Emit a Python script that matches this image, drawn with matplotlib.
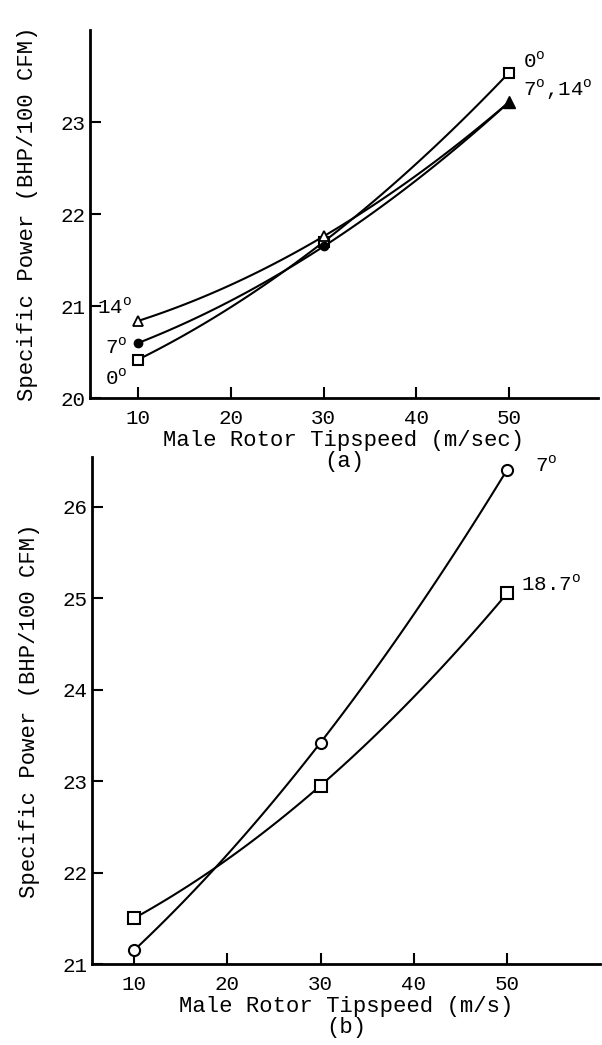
import numpy as np
import matplotlib.pyplot as plt

plt.rcParams['font.family'] = ['Liberation Mono', 'DejaVu Sans Mono']

# panel (a)
speed_a = [10, 30, 50]
power_0 = [20.42, 21.70, 23.54]
power_7 = [20.60, 21.65, 23.22]
power_14 = [20.84, 21.76, 23.22]

# panel (b)
speed_b = [10, 30, 50]
power_b7 = [21.15, 23.42, 26.40]
power_b187 = [21.50, 22.95, 25.05]

DEG = '$^\\mathregular{o}$'


def smooth(ax, x, y):
    c = np.polyfit(x, y, 2)
    xs = np.linspace(x[0], x[-1], 100)
    ax.plot(xs, np.polyval(c, xs), color='black', lw=1.5, zorder=2)


def style(ax):
    for s in ['top', 'right']:
        ax.spines[s].set_visible(False)
    for s in ['left', 'bottom']:
        ax.spines[s].set_linewidth(2)
    ax.tick_params(direction='in', length=8, width=1.5, labelsize=15)
    ax.tick_params(axis='x', pad=8)
    ax.set_ylabel('Specific Power (BHP/100 CFM)', fontsize=16, labelpad=16)


fig = plt.figure(figsize=(6.02, 10.45), dpi=100)

ax1 = fig.add_axes([0.1495, 0.619, 0.844, 0.352])
ax1.set_zorder(2)
ax1.patch.set_visible(False)
smooth(ax1, speed_a, power_0)
smooth(ax1, speed_a, power_7)
smooth(ax1, speed_a, power_14)
ax1.plot(speed_a, power_0, 's', ms=7, mfc='white', mec='black', mew=1.5, zorder=3)
ax1.plot(speed_a[:2], power_14[:2], '^', ms=7, mfc='white', mec='black', mew=1.3, zorder=3)
ax1.plot(speed_a[:2], power_7[:2], 'o', ms=6, color='black', zorder=4)
ax1.plot(speed_a[2:], power_7[2:], '^', ms=9, color='black', zorder=4)
ax1.set_xlim(4.8, 59.6)
ax1.set_ylim(20, 24)
ax1.set_xticks([10, 20, 30, 40, 50])
ax1.set_yticks([20, 21, 22, 23])
style(ax1)
ax1.set_xlabel('Male Rotor Tipspeed (m/sec)\n(a)', fontsize=16, labelpad=1,
               linespacing=1.0)
ax1.text(9.3, power_14[0] + 0.15, '14' + DEG, fontsize=15, ha='right', va='center')
ax1.text(8.8, power_7[0] - 0.05, '7' + DEG, fontsize=15, ha='right', va='center')
ax1.text(8.8, power_0[0] - 0.2, '0' + DEG, fontsize=15, ha='right', va='center')
ax1.text(51.5, power_0[2] + 0.12, '0' + DEG, fontsize=15, ha='left', va='center')
ax1.text(51.5, power_7[2] + 0.14, '7' + DEG + ',14' + DEG, fontsize=15, ha='left', va='center')

ax2 = fig.add_axes([0.153, 0.0775, 0.844, 0.485])
ax2.patch.set_visible(False)
smooth(ax2, speed_b, power_b7)
smooth(ax2, speed_b, power_b187)
ax2.plot(speed_b, power_b7, 'o', ms=8, mfc='white', mec='black', mew=1.5, zorder=3)
ax2.plot(speed_b, power_b187, 's', ms=8, mfc='white', mec='black', mew=1.5, zorder=3)
ax2.set_xlim(5.5, 60)
ax2.set_ylim(21.03, 26.54)
ax2.set_xticks([10, 20, 30, 40, 50])
ax2.set_yticks([21, 22, 23, 24, 25, 26])
style(ax2)
ax2.set_xlabel('Male Rotor Tipspeed (m/s)\n(b)', fontsize=16, labelpad=1,
               linespacing=1.0)
ax2.text(53.0, power_b7[2] + 0.05, '7' + DEG, fontsize=15, ha='left', va='center')
ax2.text(51.5, power_b187[2] + 0.1, '18.7' + DEG, fontsize=15, ha='left', va='center')

fig.savefig('out.png', dpi=100)
